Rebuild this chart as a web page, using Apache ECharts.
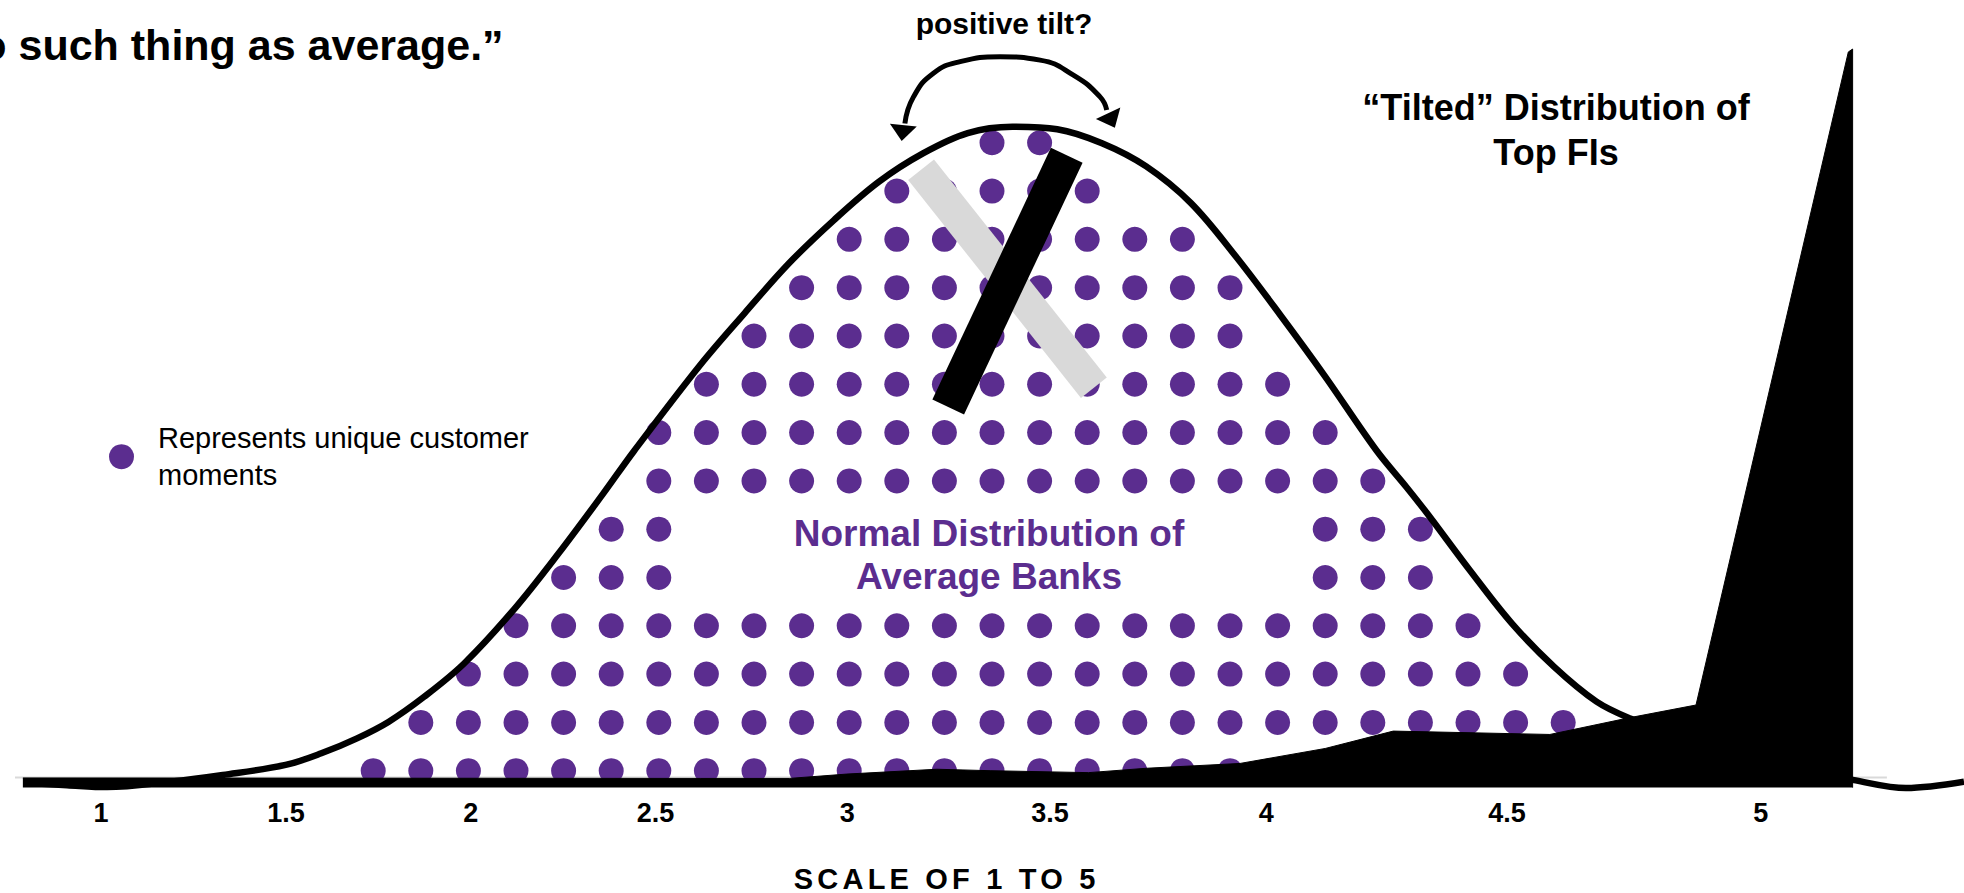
<!DOCTYPE html>
<html>
<head>
<meta charset="utf-8">
<title>Tilted distribution</title>
<script src="https://cdn.jsdelivr.net/npm/echarts@6/dist/echarts.min.js"></script>
<style>
    html, body { margin: 0; padding: 0; background: #fff; }
    #chart { width: 1964px; height: 893px; }
</style>
</head>
<body>
<div id="chart"></div>
<script>
/*
  Normal vs "tilted" distribution
  axis units: x = one dot column, y = one dot row
*/

// ========================================
// data
// ========================================

const scaleTickPos = [-5.72, -1.83, 2.05, 5.93, 9.96, 14.22, 18.76, 23.82, 29.15];
const scaleTickLabels = ["1", "1.5", "2", "2.5", "3", "3.5", "4", "4.5", "5"];

// customer moment dots, bottom row first: [first col, last col] runs
const momentRows = [
    [[0, 25]],
    [[1, 25]],
    [[2, 24]],
    [[3, 23]],
    [[4, 6], [20, 22]],
    [[5, 6], [20, 22]],
    [[6, 21]],
    [[6, 20]],
    [[7, 19]],
    [[8, 18]],
    [[9, 18]],
    [[10, 17]],
    [[11, 15]],
    [[13, 14]]
];

// bell curve of average banks
const averageCurve = [
    [-7.32, -0.25], [-6.43, -0.30], [-5.59, -0.34], [-4.28, -0.23], [-3.16, -0.09],
    [-1.84, 0.12], [-1.09, 0.36], [-0.34, 0.67], [0.32, 1.01], [1.07, 1.53],
    [1.91, 2.22], [2.95, 3.33], [3.88, 4.48], [4.82, 5.72], [5.48, 6.62],
    [6.87, 8.40], [7.80, 9.47], [8.74, 10.51], [9.68, 11.40], [10.62, 12.19],
    [11.55, 12.78], [12.49, 13.20], [13.43, 13.33], [14.37, 13.28], [15.31, 12.99],
    [16.24, 12.51], [17.18, 11.75], [18.12, 10.65], [19.06, 9.43], [20.00, 8.16],
    [21.07, 6.64], [21.70, 5.88], [22.14, 5.33], [23.03, 4.16], [23.92, 3.05],
    [24.81, 2.15], [25.70, 1.43], [26.41, 1.08], [27.87, 0.53], [29.55, 0.08],
    [31.08, -0.19], [32.20, -0.36], [33.42, -0.23]
];

// tilted distribution of top FIs
const topFiArea = [
    [-7.36, -0.15], [6.87, -0.16], [8.74, -0.16], [9.95, -0.07], [11.84, 0.03],
    [12.96, 0.00], [15.03, -0.04], [16.24, 0.05], [18.21, 0.15], [20.00, 0.46],
    [21.43, 0.82], [24.72, 0.75], [26.41, 1.10], [27.79, 1.36], [29.04, 6.64],
    [30.99, 14.88], [31.08, 14.94], [31.08, -0.35]
];

const baseRule = [[-7.65, -0.14], [31.8, -0.14]];
const greyTiltBar = [[11.51, 12.44], [15.14, 7.93]];
const blackTiltBar = [[14.57, 12.74], [12.08, 7.53]];

const tiltArc = [
    [11.17, 13.40], [11.35, 13.95], [11.77, 14.44], [12.33, 14.68], [13.17, 14.78],
    [14.01, 14.71], [14.71, 14.40], [15.27, 13.95], [15.41, 13.68]
];
// x, y, rotation
const tiltArrowHeads = [[11.12, 13.20, 174], [15.51, 13.46, 205]];

const titleText = "o such thing as average.\u201d";
const tiltQuestion = "positive tilt?";
const topFiLabel = "\u201cTilted\u201d Distribution of\nTop FIs";
const averageLabel = "Normal Distribution of\nAverage Banks";
const momentName = "Represents unique customer moments";
const momentLegend = "Represents unique customer\nmoments";
const axisTitle = "SCALE OF 1 TO 5";

const FONT = "'Liberation Sans', Arial, sans-serif";
const PURPLE = "#5b2d8f";

// ========================================
// build
// ========================================

function buildDots() {
    let dots = [];
    momentRows.forEach((runs, row) => {
        runs.forEach(run => {
            for (let c = run[0]; c <= run[1]; c++) {
                dots.push([c, row]);
            }
        });
    });
    return dots;
}

function textEl(text, x, y, size, extra) {
    return {
        type: "text",
        x: x,
        y: y,
        z: 100,
        style: Object.assign({
            text: text,
            fontFamily: FONT,
            fontSize: size,
            fontWeight: "bold",
            fill: "#000",
            align: "center",
            verticalAlign: "middle",
            textAlign: "center",
            textVerticalAlign: "middle"
        }, extra || {})
    };
}

function plainLine(name, data, color, width, z, extra) {
    return Object.assign({
        name: name,
        type: "line",
        data: data,
        z: z,
        symbol: "none",
        silent: true,
        clip: false,
        lineStyle: { color: color, width: width, cap: "butt" }
    }, extra || {});
}

// spaced-out axis title (svg text)
function spaceAxisTitle() {
    document.querySelectorAll("#chart text").forEach(t => {
        if (t.textContent === axisTitle) {
            t.setAttribute("letter-spacing", "4.2");
            t.style.letterSpacing = "4.2px";
        }
    });
}

const chart = echarts.init(
    document.getElementById("chart"),
    null,
    { renderer: "svg" }
);

chart.on("finished", spaceAxisTitle);
chart.on("rendered", spaceAxisTitle);

chart.setOption({
    animation: false,
    backgroundColor: "#fff",
    grid: {
        left: 16.2,
        right: 0,
        top: 22,
        bottom: 105.4,
        containLabel: false,
        outerBoundsMode: "none"
    },
    xAxis: {
        type: "value",
        min: -7.5,
        max: 33.42,
        axisLine: { show: false },
        axisTick: { show: false },
        splitLine: { show: false },
        axisLabel: {
            customValues: scaleTickPos,
            margin: 12,
            color: "#000",
            fontFamily: FONT,
            fontSize: 27,
            fontWeight: "bold",
            formatter: v => {
                let i = scaleTickPos.findIndex(p => Math.abs(p - v) < 1e-6);
                return i >= 0 ? scaleTickLabels[i] : "";
            }
        }
    },
    yAxis: {
        type: "value",
        min: -0.35,
        max: 15.5,
        show: false
    },
    legend: {
        data: [momentName],
        left: 109,
        top: 420,
        padding: 0,
        icon: "circle",
        itemWidth: 25,
        itemHeight: 25,
        selectedMode: false,
        formatter: () => momentLegend,
        textStyle: {
            fontFamily: FONT,
            fontSize: 29,
            color: "#000",
            lineHeight: 36.7,
            padding: [0, 0, 0, 19]
        }
    },
    graphic: [
        textEl(titleText, 503.6, 45.1, 43, { align: "right", textAlign: "right" }),
        textEl(tiltQuestion, 1004, 23, 30),
        textEl(topFiLabel, 1556, 130, 36, { lineHeight: 45 }),
        textEl(averageLabel, 989, 555.2, 37, { lineHeight: 42.6, fill: PURPLE }),
        textEl(axisTitle, 946.7, 878.5, 29)
    ],
    series: [
        plainLine("rule", baseRule, "#d9d9d9", 2, 1),
        {
            name: momentName,
            type: "scatter",
            data: buildDots(),
            z: 2,
            silent: true,
            symbol: "circle",
            symbolSize: 25,
            itemStyle: { color: PURPLE, opacity: 1 }
        },
        plainLine("average", averageCurve, "#000", 6.5, 3, { smooth: 0.35 }),
        plainLine("topFI", topFiArea, "#000", 1, 4, {
            areaStyle: { color: "#000", opacity: 1, origin: "start" }
        }),
        plainLine("greyTilt", greyTiltBar, "#d9d9d9", 33, 5),
        plainLine("blackTilt", blackTiltBar, "#000", 35, 6),
        plainLine("arc", tiltArc, "#000", 5, 7, { smooth: 0.5 }),
        {
            name: "arrows",
            type: "scatter",
            data: tiltArrowHeads,
            z: 8,
            silent: true,
            symbol: "triangle",
            symbolSize: [27, 16],
            symbolRotate: (value) => value[2],
            itemStyle: { color: "#000", opacity: 1 }
        }
    ]
});

spaceAxisTitle();
setTimeout(spaceAxisTitle, 50);
</script>
</body>
</html>
